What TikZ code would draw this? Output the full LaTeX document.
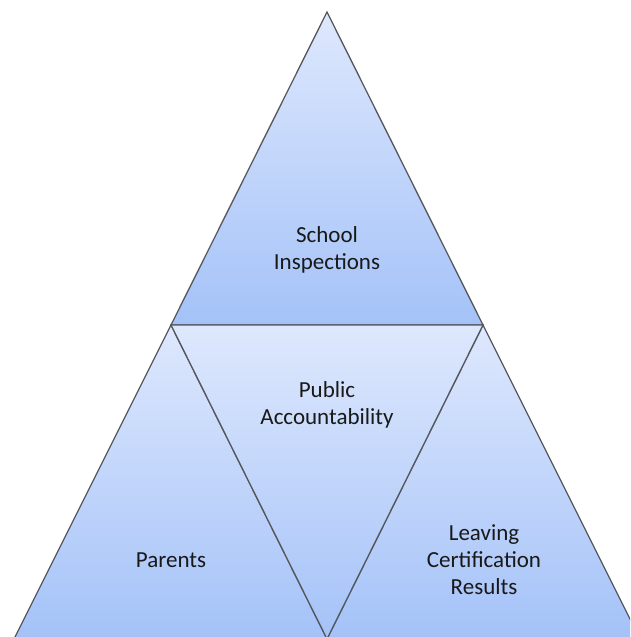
\documentclass[tikz,border=0pt]{standalone}
\usepackage{fontspec}
\setmainfont{Carlito}
\usepackage{tikz}
\usetikzlibrary{positioning}
\definecolor{tritop}{RGB}{222,232,253}
\definecolor{tribottom}{RGB}{164,194,248}
\definecolor{triedge}{RGB}{85,88,95}
\tikzstyle{tri} = [
  draw=triedge,
  line width=1.3pt,
  line join=miter,
  top color=tritop,
  bottom color=tribottom
]
\tikzstyle{label} = [
  align=center,
  text=black!90,
  font=\fontsize{23}{27}\selectfont
]

\begin{document}
\begin{tikzpicture}[x=1pt, y=-1pt]
    \useasboundingbox (0,0) rectangle (630,637);
    \clip (0,0) rectangle (630,637);

    % corners of the pyramid, base runs just below the page
    \coordinate (apex) at (327,12);
    \coordinate (mid-left) at (171,325);
    \coordinate (mid-right) at (483,325);
    \coordinate (base-left) at (14,639);
    \coordinate (base-mid) at (327,639);
    \coordinate (base-right) at (640,639);

    \draw [tri] (apex) -- (mid-right) -- (mid-left) -- cycle;
    \draw [tri] (mid-left) -- (base-mid) -- (base-left) -- cycle;
    \draw [tri] (mid-right) -- (base-right) -- (base-mid) -- cycle;
    \draw [tri] (mid-left) -- (mid-right) -- (base-mid) -- cycle;

    \node (inspections) [label] at (327,249.5) {School\\Inspections};
    \node (accountability) [label] at (327,405) {Public\\Accountability};
    \node (parents) [label, anchor=base] at (171,567) {Parents};
    \node (leaving-cert) [label] at (484,560) {Leaving\\Certification\\Results};
\end{tikzpicture}
\end{document}
